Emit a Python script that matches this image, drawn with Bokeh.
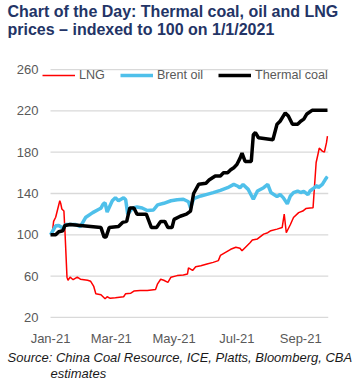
import pandas as pd
from bokeh.plotting import figure
from bokeh.models import Range1d, FixedTicker, Legend, LegendItem, Title, DatetimeTickFormatter
from bokeh.embed import file_html
from bokeh.resources import INLINE

title_lines = ["Chart of the Day: Thermal coal, oil and LNG",
               "prices \u2013 indexed to 100 on 1/1/2021"]
source_lines = ["Source: China Coal Resource, ICE, Platts, Bloomberg, CBA", "estimates"]

series_names = ["LNG", "Brent oil", "Thermal coal"]

lng_dates = ["2021-01-01", "2021-01-03", "2021-01-04", "2021-01-06", "2021-01-08", "2021-01-10",
             "2021-01-11", "2021-01-12", "2021-01-14", "2021-01-15", "2021-01-17", "2021-01-18",
             "2021-01-20", "2021-01-23", "2021-01-27", "2021-01-30", "2021-02-06", "2021-02-09",
             "2021-02-12", "2021-02-14", "2021-02-19", "2021-02-21", "2021-02-23", "2021-02-25",
             "2021-02-28", "2021-03-05", "2021-03-13", "2021-03-15", "2021-03-20", "2021-03-23",
             "2021-03-29", "2021-04-05", "2021-04-13", "2021-04-15", "2021-04-18", "2021-04-21",
             "2021-04-25", "2021-04-28", "2021-05-04", "2021-05-10", "2021-05-14", "2021-05-15",
             "2021-05-19", "2021-05-22", "2021-05-27", "2021-06-02", "2021-06-08", "2021-06-13",
             "2021-06-15", "2021-06-20", "2021-06-25", "2021-06-30", "2021-07-04", "2021-07-06",
             "2021-07-14", "2021-07-16", "2021-07-21", "2021-07-27", "2021-07-31", "2021-08-03",
             "2021-08-09", "2021-08-14", "2021-08-16", "2021-08-18", "2021-08-22", "2021-08-25",
             "2021-08-30", "2021-09-03", "2021-09-06", "2021-09-10", "2021-09-13", "2021-09-14",
             "2021-09-16", "2021-09-18", "2021-09-19", "2021-09-21", "2021-09-22", "2021-09-24",
             "2021-09-26", "2021-09-27"]
lng_values = [100, 104, 113, 117, 125, 133,
              130, 125, 123, 104, 59, 56,
              59, 56.5, 59, 57, 56, 55,
              50, 43, 42, 40, 38, 40,
              38.5, 39, 40, 43, 43.5, 45.5,
              46, 46, 47, 52.5, 57, 56,
              54, 59, 60.5, 61, 62, 68,
              65.5, 69, 70, 71.7, 73.3, 75,
              80, 83, 86, 88, 87, 84.6,
              92.6, 95, 96, 100.7, 102, 104,
              105.5, 107, 120, 102, 110, 116.7,
              121.5, 123, 125.4, 126, 126.3, 141,
              170, 179, 184, 182, 181, 180,
              189, 195.5]

brent_dates = ["2021-01-01", "2021-01-06", "2021-01-09", "2021-01-13", "2021-01-16", "2021-01-25",
               "2021-01-30", "2021-02-04", "2021-02-11", "2021-02-17", "2021-02-19", "2021-02-21",
               "2021-02-23", "2021-02-25", "2021-03-02", "2021-03-05", "2021-03-08", "2021-03-13",
               "2021-03-15", "2021-03-17", "2021-03-22", "2021-03-26", "2021-03-31", "2021-04-05",
               "2021-04-11", "2021-04-15", "2021-04-21", "2021-04-28", "2021-05-04", "2021-05-10",
               "2021-05-15", "2021-05-17", "2021-05-20", "2021-05-27", "2021-06-02", "2021-06-08",
               "2021-06-15", "2021-06-22", "2021-06-28", "2021-07-02", "2021-07-04", "2021-07-07",
               "2021-07-12", "2021-07-17", "2021-07-21", "2021-07-27", "2021-07-31", "2021-08-03",
               "2021-08-09", "2021-08-12", "2021-08-15", "2021-08-19", "2021-08-22", "2021-08-25",
               "2021-08-29", "2021-09-01", "2021-09-04", "2021-09-08", "2021-09-10", "2021-09-13",
               "2021-09-17", "2021-09-18", "2021-09-22", "2021-09-25", "2021-09-27"]
brent_values = [100, 108.7, 109, 106.5, 110, 110,
                108, 116.7, 121.5, 124.8, 125.8, 129.6,
                131, 122, 133, 136, 133, 136,
                134, 120, 126, 127, 126, 123.5,
                124, 129, 130.5, 133, 134, 134.4,
                132, 126, 135, 137.6, 139.2, 140.8,
                143, 145.6, 148.8, 147, 145.6, 148.8,
                144, 134.4, 142.4, 145.6, 148.8, 141,
                137, 139, 136, 130, 137.6, 140.8,
                142.4, 141, 142, 139, 142.4, 144.6,
                147.9, 145.6, 148.8, 153.7, 156.5]

coal_dates = ["2021-01-01", "2021-01-06", "2021-01-09", "2021-01-13", "2021-01-15", "2021-01-20",
              "2021-01-30", "2021-02-09", "2021-02-19", "2021-02-22", "2021-02-24", "2021-02-27",
              "2021-03-08", "2021-03-12", "2021-03-16", "2021-03-19", "2021-03-23", "2021-03-26",
              "2021-04-04", "2021-04-09", "2021-04-14", "2021-04-18", "2021-04-22", "2021-04-25",
              "2021-04-29", "2021-05-01", "2021-05-07", "2021-05-13", "2021-05-17", "2021-05-20",
              "2021-05-25", "2021-06-01", "2021-06-04", "2021-06-10", "2021-06-15", "2021-06-18",
              "2021-06-22", "2021-06-25", "2021-06-28", "2021-07-01", "2021-07-04", "2021-07-06",
              "2021-07-09", "2021-07-15", "2021-07-17", "2021-07-19", "2021-07-22", "2021-08-05",
              "2021-08-09", "2021-08-12", "2021-08-17", "2021-08-20", "2021-08-24", "2021-08-29",
              "2021-09-01", "2021-09-04", "2021-09-07", "2021-09-12", "2021-09-27"]
coal_values = [100, 100, 103, 104, 109, 110,
               109, 108, 107, 98, 98, 107,
               108, 112, 113, 126, 126, 120,
               120, 107, 107, 113, 113, 107,
               107, 115, 118, 120, 123, 140,
               149, 150, 153, 157, 157, 160,
               160, 163, 165, 168, 174, 179,
               171, 171, 197, 199, 194, 192,
               207, 210, 218, 215, 207, 207,
               210, 212, 217, 220.5, 220.5]

y_ticks = [20, 60, 100, 140, 180, 220, 260]
x_tick_dates = ["2021-01-01", "2021-03-01", "2021-05-01", "2021-07-01", "2021-09-01"]
x_tick_labels = ["Jan-21", "Mar-21", "May-21", "Jul-21", "Sep-21"]
grid_start, grid_end = "2021-01-01", "2021-09-28"

FONT = "Liberation Sans"
GREY = "#595959"

p = figure(width=363, height=391, x_axis_type="datetime", output_backend="svg",
           toolbar_location=None,
           x_range=Range1d(pd.Timestamp("2020-12-24 05:00"), pd.Timestamp(grid_end)),
           y_range=Range1d(18, 262),
           min_border_left=42, min_border_right=35, min_border_top=0, min_border_bottom=0)
p.outline_line_color = None
p.background_fill_color = "white"
p.border_fill_color = "white"

# horizontal gridlines spanning the data period only
n = len(y_ticks)
p.segment(x0=[pd.Timestamp(grid_start)] * n, x1=[pd.Timestamp(grid_end)] * n,
          y0=y_ticks, y1=y_ticks, line_color="#d9d9d9", line_width=1.3)

r_lng = p.line(pd.to_datetime(lng_dates), lng_values, line_color="#ff0000", line_width=1.5)
r_brent = p.line(pd.to_datetime(brent_dates), brent_values, line_color="#4fc0ea", line_width=3.5)
r_coal = p.line(pd.to_datetime(coal_dates), coal_values, line_color="#000000", line_width=3.5)

# axes
p.yaxis.ticker = FixedTicker(ticks=y_ticks)
tick_ms = [pd.Timestamp(d).value / 1e6 for d in x_tick_dates]
p.xaxis.ticker = FixedTicker(ticks=tick_ms)
p.xaxis.formatter = DatetimeTickFormatter(months="%b-%y", days="%b-%y", years="%b-%y")
p.xaxis.major_label_overrides = {t: lab for t, lab in zip(tick_ms, x_tick_labels)}
for ax in (p.xaxis, p.yaxis):
    ax.axis_line_color = None
    ax.major_tick_line_color = None
    ax.minor_tick_line_color = None
    ax.major_tick_out = 0
    ax.major_tick_in = 0
    ax.minor_tick_out = 0
    ax.minor_tick_in = 0
    ax.major_label_text_font = FONT
    ax.major_label_text_font_size = "13px"
    ax.major_label_text_color = GREY
p.yaxis.major_label_standoff = 4
p.xaxis.major_label_standoff = 11

p.xgrid.grid_line_color = None
p.ygrid.grid_line_color = None

legend = Legend(items=[LegendItem(label=series_names[0], renderers=[r_lng]),
                       LegendItem(label=series_names[1], renderers=[r_brent]),
                       LegendItem(label=series_names[2], renderers=[r_coal])],
                orientation="horizontal", location=(0, 237), padding=0, margin=0,
                spacing=15, glyph_width=33, glyph_height=12, label_height=12,
                label_standoff=4, label_text_font=FONT, label_text_font_size="12.6px",
                label_text_color=GREY, border_line_color=None, background_fill_alpha=0)
p.add_layout(legend)

TITLE_COLOR = "#233466"
# above: first added is closest to the plot
p.add_layout(Title(text=" ", standoff=11, text_font=FONT, text_font_size="16px"), "above")
p.add_layout(Title(text=title_lines[1], align="left", offset=-35, standoff=-1,
                   text_font=FONT, text_font_style="bold", text_font_size="16px",
                   text_color=TITLE_COLOR), "above")
p.add_layout(Title(text=title_lines[0], align="left", offset=-35, standoff=0,
                   text_font=FONT, text_font_style="bold", text_font_size="16px",
                   text_color=TITLE_COLOR), "above")
# below: after the x axis
p.add_layout(Title(text=source_lines[0], align="left", offset=-35, standoff=-2,
                   text_font=FONT, text_font_style="italic", text_font_size="13px",
                   text_color="#1a1a1a"), "below")
p.add_layout(Title(text=source_lines[1], align="left", offset=8, standoff=0,
                   text_font=FONT, text_font_style="italic", text_font_size="13px",
                   text_color="#1a1a1a"), "below")
p.add_layout(Title(text=" ", standoff=-6, text_font=FONT, text_font_size="13px"), "below")

open("out.html", "w").write(file_html(p, INLINE))
